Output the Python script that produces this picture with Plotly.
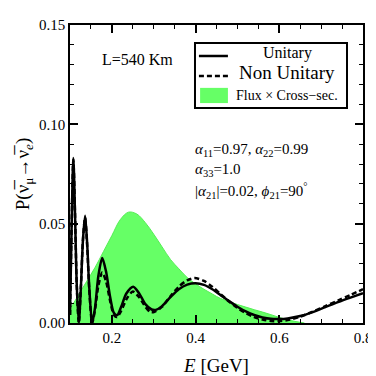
import plotly.graph_objs as go

# energies [GeV] and probabilities
e_unitary = [0.100, 0.104, 0.108, 0.112, 0.116, 0.121, 0.126, 0.131, 0.136, 0.141,
             0.146, 0.153, 0.160, 0.168, 0.177, 0.186, 0.196, 0.205, 0.213, 0.222,
             0.235, 0.251, 0.265, 0.280, 0.295, 0.305, 0.320, 0.340, 0.360, 0.380,
             0.400, 0.420, 0.440, 0.460, 0.480, 0.500, 0.520, 0.540, 0.560, 0.580,
             0.600, 0.620, 0.650, 0.680, 0.710, 0.740, 0.770, 0.800]
p_unitary = [0.004, 0.050, 0.083, 0.055, 0.020, 0.000, 0.018, 0.042, 0.054, 0.040,
             0.018, 0.000, 0.008, 0.024, 0.0327, 0.026, 0.013, 0.005, 0.004, 0.008,
             0.015, 0.0183, 0.015, 0.0095, 0.0068, 0.0066, 0.0085, 0.0130, 0.0170, 0.0193,
             0.0200, 0.0192, 0.0170, 0.0140, 0.0110, 0.0082, 0.0058, 0.0040, 0.0028, 0.0021,
             0.0020, 0.0023, 0.0035, 0.0055, 0.0080, 0.0105, 0.0128, 0.0150]

e_nonunitary = [0.100, 0.104, 0.108, 0.112, 0.116, 0.121, 0.126, 0.131, 0.136, 0.141,
                0.146, 0.153, 0.160, 0.168, 0.177, 0.186, 0.196, 0.205, 0.212, 0.222,
                0.235, 0.250, 0.265, 0.280, 0.292, 0.302, 0.320, 0.340, 0.360, 0.380,
                0.398, 0.420, 0.440, 0.460, 0.480, 0.500, 0.520, 0.540, 0.560, 0.580,
                0.600, 0.620, 0.650, 0.680, 0.710, 0.740, 0.770, 0.800]
p_nonunitary = [0.004, 0.050, 0.082, 0.055, 0.020, 0.000, 0.018, 0.042, 0.053, 0.039,
                0.017, 0.000, 0.007, 0.019, 0.0254, 0.021, 0.011, 0.004, 0.003, 0.006,
                0.012, 0.0158, 0.013, 0.0082, 0.0055, 0.0056, 0.0082, 0.0135, 0.0183, 0.0215,
                0.0226, 0.0212, 0.0182, 0.0145, 0.0108, 0.0076, 0.0050, 0.0030, 0.0017, 0.0010,
                0.0010, 0.0015, 0.0032, 0.0057, 0.0085, 0.0113, 0.0141, 0.0170]

e_flux = [0.10, 0.12, 0.14, 0.16, 0.18, 0.20, 0.22, 0.24, 0.26, 0.28, 0.30, 0.32,
          0.34, 0.36, 0.38, 0.40, 0.42, 0.44, 0.46, 0.48, 0.50, 0.52, 0.54, 0.56,
          0.58, 0.60, 0.62, 0.64, 0.66]
p_flux = [0.007, 0.014, 0.021, 0.028, 0.036, 0.044, 0.052, 0.0558, 0.0548, 0.0505, 0.0447, 0.0383,
          0.0320, 0.0273, 0.0229, 0.0197, 0.0170, 0.0146, 0.0123, 0.0108, 0.0093, 0.0080, 0.0067, 0.0055,
          0.0042, 0.0028, 0.0016, 0.0007, 0.0]

legend_labels = ['Unitary', 'Non Unitary', 'Flux × Cross−sec.']

serif = "Liberation Serif"
green = '#66ff66'
dash = '5px,3px'

fig = go.Figure()

fig.add_trace(go.Scatter(
    x=e_flux, y=p_flux, mode='lines', fill='tozeroy',
    line=dict(color='#55ee55', width=1, shape='spline'),
    fillcolor=green, name=legend_labels[2], showlegend=False
))
fig.add_trace(go.Scatter(
    x=e_unitary, y=p_unitary, mode='lines',
    line=dict(color='black', width=2.5, shape='spline', smoothing=0.8),
    name=legend_labels[0], showlegend=False
))
fig.add_trace(go.Scatter(
    x=e_nonunitary, y=p_nonunitary, mode='lines',
    line=dict(color='black', width=2.5, dash=dash, shape='spline', smoothing=0.8),
    name=legend_labels[1], showlegend=False
))

axis_common = dict(
    showline=True, linecolor='black', linewidth=1.5, mirror='allticks',
    ticks='inside', ticklen=8, tickwidth=1.5, tickcolor='black',
    showgrid=False, zeroline=False, automargin=False,
    tickfont=dict(family=serif, size=15, color='black'),
)

fig.update_xaxes(
    range=[0.1, 0.8], tick0=0.2, dtick=0.2, tickformat='.1f',
    minor=dict(ticks='inside', ticklen=4, tickwidth=1.2, tickcolor='black', tick0=0.1, dtick=0.05),
    title=dict(text='<i>E</i> [GeV]', font=dict(family=serif, size=19, color='black'), standoff=14),
    **axis_common
)
fig.update_yaxes(
    range=[0, 0.15], tick0=0, dtick=0.05, tickformat='.2f',
    minor=dict(ticks='inside', ticklen=4, tickwidth=1.2, tickcolor='black', tick0=0, dtick=0.01),
    title=dict(text='P(ν̅<sub>μ</sub>→ν̅<sub><i>e</i></sub>)', font=dict(family=serif, size=19, color='black'), standoff=4),
    **axis_common
)

# legend box drawn by hand so the labels can be centred like the original
fig.add_shape(type='rect', xref='paper', yref='paper', x0=0.4266, x1=0.9454, y0=0.7215, y1=0.9396,
              line=dict(color='black', width=2), fillcolor='white')
fig.add_shape(type='line', xref='paper', yref='paper', x0=0.440, x1=0.539, y0=0.896, y1=0.896,
              line=dict(color='black', width=2.5))
fig.add_shape(type='line', xref='paper', yref='paper', x0=0.440, x1=0.539, y0=0.829, y1=0.829,
              line=dict(color='black', width=2.5, dash=dash))
fig.add_shape(type='rect', xref='paper', yref='paper', x0=0.444, x1=0.539, y0=0.738, y1=0.789,
              line=dict(width=0), fillcolor=green)
for lab, yy, sz in zip(legend_labels, [0.906, 0.839, 0.765], [16, 19, 14]):
    fig.add_annotation(x=0.742, y=yy, xref='paper', yref='paper', xanchor='center', yanchor='middle',
                       text=lab, showarrow=False, font=dict(family=serif, size=sz, color='black'))

fig.add_annotation(x=0.102, y=0.883, xref='paper', yref='paper', xanchor='left', yanchor='middle',
                   text='L=540 Km', showarrow=False, font=dict(family=serif, size=16, color='black'))
params = ['<i>α</i><sub>11</sub>=0.97, <i>α</i><sub>22</sub>=0.99',
          '<i>α</i><sub>33</sub>=1.0',
          '|<i>α</i><sub>21</sub>|=0.02, <i>ϕ</i><sub>21</sub>=90<sup>°</sup>']
for i, t in enumerate(params):
    fig.add_annotation(x=0.42, y=0.58 - i * 0.068, xref='paper', yref='paper',
                       xanchor='left', yanchor='middle', text=t, showarrow=False,
                       font=dict(family=serif, size=15, color='black'))

# the page body has an 8px margin, so the figure is 368px and starts 8px in
fig.update_layout(
    width=368, height=368,
    margin=dict(l=62, r=13, t=17, b=53),
    paper_bgcolor='white', plot_bgcolor='white',
    font=dict(family=serif, color='black'),
    showlegend=False,
)

fig.write_html("out.html")
